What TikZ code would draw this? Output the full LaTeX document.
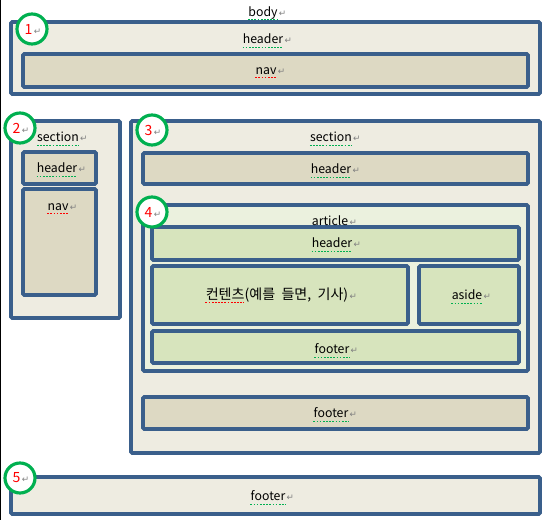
\documentclass[tikz,border=0pt]{standalone}
\usepackage{fontspec}
\setmainfont{Noto Sans CJK KR}
\newfontfamily\symfont{DejaVu Sans}
\usetikzlibrary{positioning}

\definecolor{boxline}{HTML}{3A5F8B}
\definecolor{tanfill}{HTML}{EEECE1}
\definecolor{navfill}{HTML}{DDD9C3}
\definecolor{artfill}{HTML}{EBF1DE}
\definecolor{leaffill}{HTML}{D7E4BD}
\definecolor{ringgreen}{HTML}{00B050}
\definecolor{markgray}{HTML}{808080}

\tikzset{
  box/.style={draw=boxline, line width=2pt, rounded corners=0.6pt},
  outerbox/.style={box, fill=tanfill},
  navbox/.style={box, fill=navfill},
  artbox/.style={box, fill=artfill},
  leafbox/.style={box, fill=leaffill},
  word/.style={inner sep=0pt, font=\fontsize{7}{8}\selectfont},
  pmark/.style={inner sep=0pt, text=markgray, font=\symfont\fontsize{5}{6}\selectfont},
  gline/.style={draw=ringgreen, line width=0.55pt, dash pattern=on 1pt off 0.8pt},
  rline/.style={draw=red, line width=0.55pt, dash pattern=on 1pt off 0.8pt},
  noline/.style={draw=none},
  ring/.style={circle, draw=ringgreen, fill=white, line width=1.8pt, minimum size=0.6cm, inner sep=0pt},
  num/.style={inner sep=0pt, text=red, font=\fontsize{8}{9}\selectfont}
}

% label: name, position, text, underline style
\newcommand{\wlabel}[4]{%
  \node[word] (#1) at #2 {#3};
  \node[pmark, anchor=base west] (#1m) at ([xshift=0.4pt]#1.base east) {↵};
  \draw[#4] ([yshift=-2pt]#1.base west) -- ([yshift=-2pt]#1.base east);
}
% numbered ring
\newcommand{\ringnum}[3]{%
  \node[ring] (#1) at #2 {};
  \node[num] (#1t) at ([xshift=-2pt]#1.center) {#3};
  \node[pmark, anchor=base west] (#1m) at ([xshift=0.4pt]#1t.base east) {↵};
}

\begin{document}
\begin{tikzpicture}[x=0.02cm, y=-0.02cm]
\useasboundingbox (0,0) rectangle (545,520);
\draw[black, line width=0.8pt] (0.4,0) -- (0.4,520);

% ===== body: header + nav =====
\draw[outerbox] (11,22) rectangle (540,94);
\draw[navbox] (23,54) rectangle (528,87);
\wlabel{bodyw}{(263,13)}{body}{gline}
\wlabel{hdrA}{(263,39)}{header}{gline}
\wlabel{navA}{(266,71)}{nav}{rline}

% ===== left section =====
\draw[outerbox] (11,121) rectangle (120,318);
\draw[navbox] (23,152) rectangle (96,184);
\draw[navbox] (23,189) rectangle (96,295);
\wlabel{secB}{(58,137)}{section}{gline}
\wlabel{hdrB}{(57,168)}{header}{gline}
\wlabel{navB}{(58,207)}{nav}{rline}

% ===== right section =====
\draw[outerbox] (131,121) rectangle (540,453);
\draw[navbox] (143,153) rectangle (528,184);
\draw[navbox] (143,397) rectangle (528,429);
\wlabel{secC}{(331,137)}{section}{gline}
\wlabel{hdrC}{(331,169)}{header}{gline}
\wlabel{ftrC}{(331,413)}{footer}{gline}

% ===== article =====
\draw[artbox] (143,205) rectangle (528,371);
\draw[leafbox] (152,227) rectangle (519,260);
\draw[leafbox] (152,266) rectangle (408,324);
\draw[leafbox] (419,266) rectangle (519,324);
\draw[leafbox] (152,331) rectangle (519,363);
\wlabel{artD}{(330,221)}{article}{noline}
\wlabel{hdrD}{(332,243)}{header}{gline}
\node[word, font=\fontsize{8}{9}\selectfont] (cntD) at (277,295) {컨텐츠(예를 \ 들면, \ 기사)};
\node[pmark, anchor=base west] (cntDm) at ([xshift=0.4pt]cntD.base east) {↵};
\draw[rline] ([yshift=-2pt]cntD.base west) -- ++(39,0);
\wlabel{asdD}{(467,295)}{aside}{gline}
\wlabel{ftrD}{(332,349)}{footer}{gline}

% ===== bottom footer =====
\draw[outerbox] (11,477) rectangle (540,514);
\wlabel{ftrE}{(268,496)}{footer}{gline}

% ===== numbered rings =====
\ringnum{r1}{(32,29)}{1}
\ringnum{r2}{(20,128)}{2}
\ringnum{r3}{(152,130)}{3}
\ringnum{r4}{(152,212)}{4}
\ringnum{r5}{(20,478)}{5}

\end{tikzpicture}
\end{document}
